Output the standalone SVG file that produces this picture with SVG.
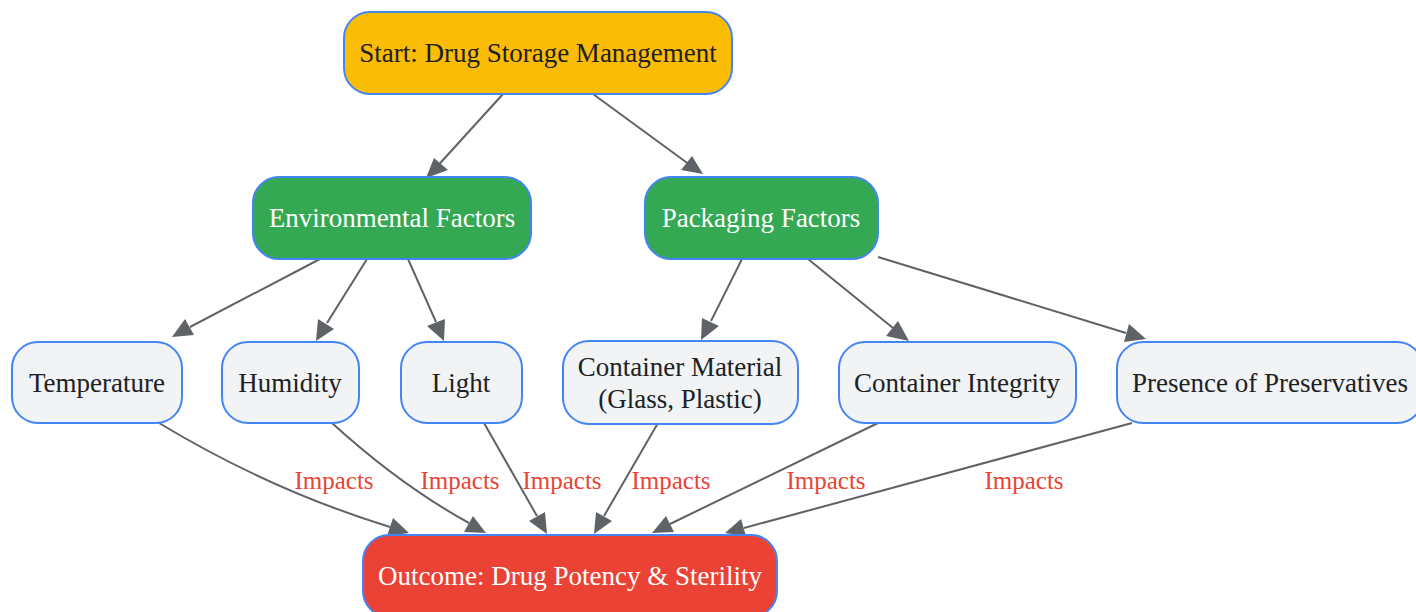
<svg xmlns="http://www.w3.org/2000/svg" width="1416" height="612" viewBox="0 0 1416 612">
<defs>
<style>
.n rect{stroke:#4285F4;stroke-width:2}
.t{font-family:"Liberation Serif","Times New Roman",serif;font-size:27px;text-anchor:middle;dominant-baseline:central}
.dark{fill:#202124}
.light{fill:#ffffff}
.e{fill:none;stroke:#5f6368;stroke-width:2}
.ah{fill:#5f6368}
.lbl{font-family:"Liberation Serif","Times New Roman",serif;font-size:25px;fill:#EA4335;text-anchor:middle;dominant-baseline:central}
</style>
</defs>
<rect width="1416" height="612" fill="#ffffff"/>
<g id="connectors">
<path class="e" d="M503,94 L433,171"/>
<polygon class="ah" points="426,178 434,158 448,170"/>
<path class="e" d="M593,94 L690,165"/>
<polygon class="ah" points="703,174 681,170 692,156"/>
<path class="e" d="M320,259 L190,327"/>
<polygon class="ah" points="172,337 185,319 194,335"/>
<path class="e" d="M367,259 L327,323"/>
<polygon class="ah" points="316,341 318,319 334,329"/>
<path class="e" d="M408,259 L436,322"/>
<polygon class="ah" points="444,341 427,326 445,319"/>
<path class="e" d="M742,259 L711,321"/>
<polygon class="ah" points="701,340 702,318 719,326"/>
<path class="e" d="M808,259 L893,328"/>
<polygon class="ah" points="909,341 886,336 898,321"/>
<path class="e" d="M878,257 L1126,333"/>
<polygon class="ah" points="1146,339 1124,342 1129,324"/>
<path class="e" d="M159,423 Q270,490 390,527"/>
<polygon class="ah" points="409,533 387,536 393,518"/>
<path class="e" d="M332,423 Q400,485 469,523"/>
<polygon class="ah" points="486,533 464,532 473,516"/>
<path class="e" d="M484,423 L537,516"/>
<polygon class="ah" points="547,534 529,521 545,512"/>
<path class="e" d="M658,423 L604,516"/>
<polygon class="ah" points="594,534 596,512 612,521"/>
<path class="e" d="M878,423 L670,524"/>
<polygon class="ah" points="652,533 666,516 674,532"/>
<path class="e" d="M1132,423 L744,528"/>
<polygon class="ah" points="725,533 741,519 746,536"/>
<text class="lbl" x="334" y="480">Impacts</text>
<text class="lbl" x="460" y="480">Impacts</text>
<text class="lbl" x="562" y="480">Impacts</text>
<text class="lbl" x="671" y="480">Impacts</text>
<text class="lbl" x="826" y="480">Impacts</text>
<text class="lbl" x="1024" y="480">Impacts</text>
</g>
<g id="start" class="n"><rect x="344" y="12" width="388" height="82" rx="26" fill="#FBBC05"/><text class="t dark" x="538" y="53">Start: Drug Storage Management</text></g>
<g id="env" class="n"><rect x="253" y="177" width="278" height="82" rx="26" fill="#34A853"/><text class="t light" x="392" y="218">Environmental Factors</text></g>
<g id="pack" class="n"><rect x="645" y="177" width="233" height="82" rx="26" fill="#34A853"/><text class="t light" x="761" y="218">Packaging Factors</text></g>
<g id="temp" class="n"><rect x="12" y="342" width="170" height="81" rx="26" fill="#F1F3F4"/><text class="t dark" x="97" y="383">Temperature</text></g>
<g id="hum" class="n"><rect x="222" y="342" width="137" height="81" rx="26" fill="#F1F3F4"/><text class="t dark" x="290" y="383">Humidity</text></g>
<g id="light" class="n"><rect x="401" y="342" width="121" height="81" rx="26" fill="#F1F3F4"/><text class="t dark" x="461" y="383">Light</text></g>
<g id="material" class="n"><rect x="563" y="341" width="235" height="83" rx="26" fill="#F1F3F4"/><text class="t dark" x="680" y="367">Container Material</text><text class="t dark" x="680" y="399">(Glass, Plastic)</text></g>
<g id="integrity" class="n"><rect x="839" y="342" width="237" height="81" rx="26" fill="#F1F3F4"/><text class="t dark" x="957" y="383">Container Integrity</text></g>
<g id="preserv" class="n"><rect x="1117" y="342" width="306" height="81" rx="26" fill="#F1F3F4"/><text class="t dark" x="1270" y="383">Presence of Preservatives</text></g>
<g id="outcome" class="n"><rect x="363" y="535" width="414" height="82" rx="26" fill="#EA4335"/><text class="t light" x="570" y="576">Outcome: Drug Potency &amp; Sterility</text></g>
</svg>
